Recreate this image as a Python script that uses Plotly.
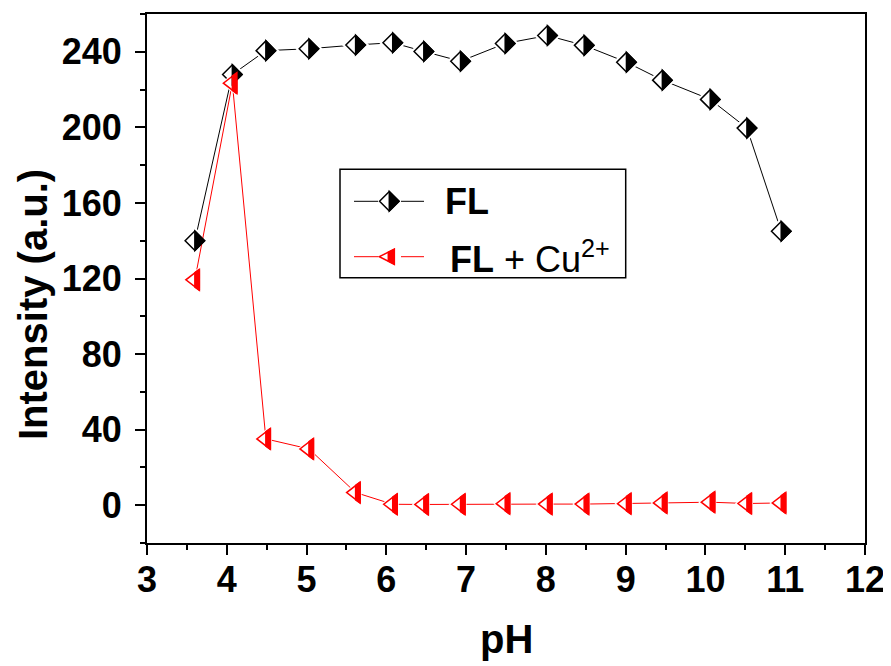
import plotly.graph_objects as go

# ---------------- data ----------------
ph = [3.6, 4.07, 4.49, 5.03, 5.615, 6.08, 6.47, 6.93, 7.49, 8.02, 8.48, 9.01, 9.46, 10.06, 10.52, 10.95]
fl = [140, 228, 240.6, 241.6, 243.6, 244.8, 240.2, 235, 244.4, 248.6, 243.4, 234.5, 225, 214.8, 199.6, 145]
fl_cu = [119.3, 223.4, 35.1, 29.8, 6.7, 0.5, 0.4, 0.5, 0.8, 0.6, 0.6, 0.8, 1.2, 1.6, 0.9, 1.2]
series_names = ["<b>FL</b>", "<b>FL</b> + Cu<sup>2+</sup>"]
x_ticks = list(range(3, 13))
y_ticks = list(range(0, 241, 40))

# ---------------- layout constants ----------------
OFF = 8                      # page body margin of the html page
W, H = 891 - OFF, 666 - OFF
PLOT_L, PLOT_R, PLOT_T, PLOT_B = 147, 865, 14, 543   # plot area in window pixels
L, T = PLOT_L - OFF, PLOT_T - OFF
R = W - (PLOT_R - OFF)
B = H - (PLOT_B - OFF)
PW, PH = PLOT_R - PLOT_L, PLOT_B - PLOT_T
FONT = "Liberation Sans, Arial, sans-serif"
RED = "#ff0000"
X_RANGE, Y_RANGE = [3, 12], [-20, 260]

def px2paper(px, py):
    return (px - PLOT_L) / PW, (PLOT_B - py) / PH

D = 9.75          # half diagonal of diamond marker (px)
TR = 9            # triangle marker "r"
TT = TR * 2 / 3 ** 0.5
TB = TR / 2

fig = go.Figure()

# FL series
fig.add_trace(go.Scatter(x=ph, y=fl, mode="lines", line=dict(color="black", width=1),
                         showlegend=False, hoverinfo="skip"))
fig.add_trace(go.Scatter(x=ph, y=fl, mode="markers",
                         marker=dict(symbol="diamond", size=21, color="white", line=dict(width=0)),
                         showlegend=False, hoverinfo="skip"))
fig.add_trace(go.Scatter(x=ph, y=fl, mode="markers", name=series_names[0],
                         marker=dict(symbol="diamond", size=15, color="white",
                                     line=dict(color="black", width=1.5)),
                         showlegend=False))
# FL + Cu series
fig.add_trace(go.Scatter(x=ph, y=fl_cu, mode="lines", line=dict(color=RED, width=1),
                         showlegend=False, hoverinfo="skip"))
fig.add_trace(go.Scatter(x=ph, y=fl_cu, mode="markers",
                         marker=dict(symbol="triangle-left", size=24, color="white", line=dict(width=0)),
                         showlegend=False, hoverinfo="skip"))
fig.add_trace(go.Scatter(x=ph, y=fl_cu, mode="markers", name=series_names[1],
                         marker=dict(symbol="triangle-left", size=2 * TR, color="white",
                                     line=dict(color=RED, width=1.5)),
                         showlegend=False))

shapes = []
# half fills of plotted markers (anchored on the data through the axes)
half_diamond = f"M0,{D} L{D},0 L0,-{D} Z"
hy0 = TT * TT / (TT + TB)
half_tri = f"M0,-{hy0:.2f} L{TB:.2f},-{TT:.2f} L{TB:.2f},{TT:.2f} L0,{hy0:.2f} Z"
for xv, yv in zip(ph, fl):
    shapes.append(dict(type="path", xref="x", yref="y", xsizemode="pixel", ysizemode="pixel",
                       xanchor=xv, yanchor=yv, path=half_diamond,
                       fillcolor="black", line=dict(color="black", width=1.5)))
for xv, yv in zip(ph, fl_cu):
    shapes.append(dict(type="path", xref="x", yref="y", xsizemode="pixel", ysizemode="pixel",
                       xanchor=xv, yanchor=yv, path=half_tri,
                       fillcolor=RED, line=dict(color=RED, width=1.5)))

# ---------------- manual legend ----------------
bx0, by1 = px2paper(340, 169.3)
bx1, by0 = px2paper(625.7, 277.7)
shapes.append(dict(type="rect", xref="paper", yref="paper", x0=bx0, x1=bx1, y0=by0, y1=by1,
                   line=dict(color="black", width=1.5), fillcolor="white", layer="above"))

annotations = []
rows = [(201.3, "black", 389.3, 443), (256.7, RED, 388.3, 448)]
for i, (ry, col, mx, tx) in enumerate(rows):
    for (xa, xb) in [(354, 378), (401, 424)]:
        xa_p, yy = px2paper(xa, ry)
        xb_p, _ = px2paper(xb, ry)
        shapes.append(dict(type="line", xref="paper", yref="paper", x0=xa_p, x1=xb_p, y0=yy, y1=yy,
                           line=dict(color=col, width=1)))
    ax, ay = px2paper(mx, ry)
    if i == 0:
        shapes.append(dict(type="path", xref="paper", yref="paper", xsizemode="pixel", ysizemode="pixel",
                           xanchor=ax, yanchor=ay, path=f"M-{D},0 L0,{D} L{D},0 L0,-{D} Z",
                           fillcolor="white", line=dict(color="black", width=1.5)))
        shapes.append(dict(type="path", xref="paper", yref="paper", xsizemode="pixel", ysizemode="pixel",
                           xanchor=ax, yanchor=ay, path=half_diamond,
                           fillcolor="black", line=dict(color="black", width=1.5)))
    else:
        shapes.append(dict(type="path", xref="paper", yref="paper", xsizemode="pixel", ysizemode="pixel",
                           xanchor=ax, yanchor=ay, path="M-9,0 L6,7.5 L6,-7.5 Z",
                           fillcolor="white", line=dict(color=RED, width=1.5)))
        shapes.append(dict(type="path", xref="paper", yref="paper", xsizemode="pixel", ysizemode="pixel",
                           xanchor=ax, yanchor=ay, path="M0,-4.5 L6,-7.5 L6,7.5 L0,4.5 Z",
                           fillcolor=RED, line=dict(color=RED, width=1.5)))
    tpx, tpy = px2paper(tx, ry)
    annotations.append(dict(x=tpx, y=tpy, xref="paper", yref="paper", xanchor="left", yanchor="middle",
                            text=series_names[i], showarrow=False,
                            font=dict(family=FONT, size=36, color="black")))

# axis titles
tx, ty = px2paper(506, 639)
annotations.append(dict(x=tx, y=ty, xref="paper", yref="paper", xanchor="center", yanchor="middle",
                        text="pH", showarrow=False,
                        font=dict(family=FONT, size=40, color="black", weight="bold")))
tx, ty = px2paper(33, 305)
annotations.append(dict(x=tx, y=ty, xref="paper", yref="paper", xanchor="center", yanchor="middle",
                        text="Intensity (a.u.)", textangle=-90, showarrow=False,
                        font=dict(family=FONT, size=40, color="black", weight="bold")))

axis_common = dict(showgrid=False, zeroline=False, showline=True, linecolor="black", linewidth=2,
                   mirror=True, ticks="outside", ticklen=10, tickwidth=2, tickcolor="black",
                   ticklabeloverflow="allow",
                   tickfont=dict(family=FONT, size=36, color="black", weight="bold"))

fig.update_layout(
    xaxis=dict(range=X_RANGE, tickvals=x_ticks, ticktext=[str(v) for v in x_ticks],
               minor=dict(dtick=0.5, ticklen=5, tickwidth=2, tickcolor="black", ticks="outside"),
               ticklabelstandoff=-6, **axis_common),
    yaxis=dict(range=Y_RANGE, tickvals=y_ticks, ticktext=[str(v) for v in y_ticks],
               minor=dict(dtick=20, ticklen=5, tickwidth=2, tickcolor="black", ticks="outside"),
               ticklabelstandoff=6, **axis_common),
    # short ticks on the top / right frame
    xaxis2=dict(overlaying="x", side="top", range=X_RANGE, dtick=0.5, tick0=3, ticks="outside",
                ticklen=3, tickwidth=1.5, tickcolor="black", showticklabels=False,
                showgrid=False, zeroline=False, showline=False),
    yaxis2=dict(overlaying="y", side="right", range=Y_RANGE, dtick=20, tick0=0, ticks="outside",
                ticklen=3, tickwidth=1.5, tickcolor="black", showticklabels=False,
                showgrid=False, zeroline=False, showline=False),
    width=W, height=H, margin=dict(l=L, r=R, t=T, b=B, autoexpand=False),
    paper_bgcolor="white", plot_bgcolor="white", showlegend=False,
    shapes=shapes, annotations=annotations,
    font=dict(family=FONT, color="black"))

fig.write_html("out.html")
